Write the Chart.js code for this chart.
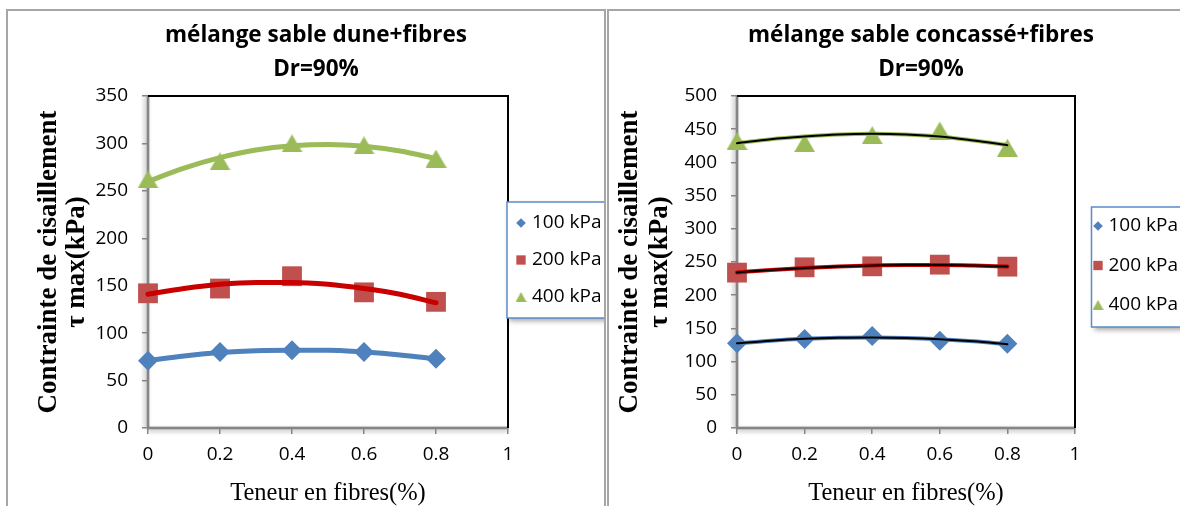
<!DOCTYPE html>
<html>
<head>
<meta charset="utf-8">
<script src="https://cdn.jsdelivr.net/npm/chart.js@4.4.1/dist/chart.umd.min.js"></script>
<style>
html,body{margin:0;padding:0;background:#fff;width:1180px;height:506px;overflow:hidden;}
.panel{position:absolute;top:9px;height:500px;overflow:hidden;border-top:2px solid #a6a6a6;background:#fff;}
#p1{left:6px;width:596px;border-left:2px solid #a6a6a6;border-right:2px solid #a6a6a6;}
#p2{left:607px;width:600px;border-left:2px solid #a6a6a6;}
canvas{position:absolute;left:0;top:0;}
</style>
</head>
<body>
<div class="panel" id="p1"><canvas id="c1" width="616" height="495"></canvas></div>
<div class="panel" id="p2"><canvas id="c2" width="624" height="495"></canvas></div>
<script>
// ---------- data ----------
const fibreContent = [0, 0.2, 0.4, 0.6, 0.8];
const seriesLabels = ['100 kPa', '200 kPa', '400 kPa'];
const xTicks = [0, 0.2, 0.4, 0.6, 0.8, 1];
const xTickLabels = ['0', '0.2', '0.4', '0.6', '0.8', '1'];
const yTicksDune = [0, 50, 100, 150, 200, 250, 300, 350];
const yTicksConc = [0, 50, 100, 150, 200, 250, 300, 350, 400, 450, 500];

// sable dune + fibres (measured points)
const dune100 = [71, 80, 82, 80, 73];
const dune200 = [142, 147, 160, 143, 133];
const dune400 = [262, 281, 300, 298, 284];
// trend curves
const trendX = [0, 0.1, 0.2, 0.3, 0.4, 0.5, 0.6, 0.7, 0.8];
const duneTrend100 = [71, 76, 79.5, 81.5, 82, 82, 80, 77, 73];
const duneTrend200 = [141, 147, 151.5, 153.5, 153.5, 151.5, 147, 141, 132];
const duneTrend400 = [260, 274, 285, 293, 297.5, 299, 297, 292, 284];

// sable concassé + fibres (measured points)
const conc100 = [127.5, 134, 138.5, 131.5, 127];
const conc200 = [234, 242, 243.5, 246, 243];
const conc400 = [432, 429, 441, 448, 422];
const concTrend100 = [127.5, 131.5, 134.3, 135.8, 136.2, 135.5, 133.6, 130.5, 126.3];
const concTrend200 = [234.3, 238, 241, 243.2, 244.7, 245.4, 245.4, 244.6, 243.1];
const concTrend400 = [429, 435, 439, 442, 443, 442, 439, 433, 426];

// ---------- styles ----------
const BLUE = '#4F81BD', RED = '#C0504D', GREEN = '#9BBB59';
const TICK_FONT = {family: 'Open Sans', size: 19};
const pts = (xs, ys) => xs.map((x, i) => ({x: x, y: ys[i]}));

// triangle marker whose bounding box is centred on the value
function triangleImage(w, h, color) {
  const c = document.createElement('canvas');
  c.width = w; c.height = h;
  const g = c.getContext('2d');
  g.fillStyle = color;
  g.beginPath(); g.moveTo(w / 2, 0); g.lineTo(w, h); g.lineTo(0, h); g.closePath(); g.fill();
  return c;
}
const TRI_BIG = triangleImage(21, 18, GREEN);
const TRI_SMALL = triangleImage(11, 10, GREEN);

function markerSet(label, ys, color, style, radius, legendStyle, legendRadius) {
  return {label: label, data: pts(fibreContent, ys), showLine: false, pointStyle: style,
    pointRadius: radius, pointHoverRadius: radius, backgroundColor: color, borderColor: color,
    borderWidth: 0, clip: false, order: 3, isMarker: true,
    legendStyle: legendStyle, legendRadius: legendRadius};
}
function trendSet(ys, color, width, order) {
  return {label: '', data: pts(trendX, ys), showLine: true, pointRadius: 0, borderColor: color,
    backgroundColor: color, borderWidth: width, cubicInterpolationMode: 'monotone', clip: false,
    order: order, borderCapStyle: 'round'};
}

// legend drawn as an outlined box
const boxLegend = {
  id: 'boxLegend',
  afterDraw(chart, args, o) {
    const ctx = chart.ctx, ca = chart.chartArea;
    const bx = ca.right + o.dx, by = o.top;
    ctx.save();
    ctx.shadowColor = 'rgba(0,0,0,0.35)';
    ctx.shadowBlur = 5; ctx.shadowOffsetX = 2; ctx.shadowOffsetY = 3;
    ctx.fillStyle = '#fff';
    ctx.fillRect(bx, by, o.w, o.h);
    ctx.restore();
    ctx.save();
    ctx.strokeStyle = '#5B8BC9'; ctx.lineWidth = 1.5;
    ctx.strokeRect(bx, by, o.w, o.h);
    const items = chart.data.datasets.filter(d => d.isMarker);
    items.forEach((d, i) => {
      const cy = by + o.first + i * o.gap;
      ctx.fillStyle = d.backgroundColor;
      Chart.helpers.drawPoint(ctx, {pointStyle: d.legendStyle, rotation: 0, radius: d.legendRadius, borderWidth: 0},
        bx + o.mx, cy);
      ctx.fillStyle = '#000';
      ctx.font = '19px "Open Sans"';
      ctx.textBaseline = 'middle'; ctx.textAlign = 'left';
      ctx.fillText(d.label, bx + o.tx, cy);
    });
    ctx.restore();
  }
};

// plot frame: black top/right, shaded grey axes
const frame = {
  id: 'frame',
  beforeDraw(chart) {
    const ctx = chart.ctx, ca = chart.chartArea;
    ctx.save();
    ctx.strokeStyle = 'rgba(120,120,120,0.6)'; ctx.lineWidth = 3;
    ctx.shadowColor = 'rgba(0,0,0,0.45)'; ctx.shadowBlur = 4;
    ctx.shadowOffsetX = -2; ctx.shadowOffsetY = 0;
    ctx.beginPath(); ctx.moveTo(ca.left, ca.top); ctx.lineTo(ca.left, ca.bottom); ctx.stroke();
    ctx.shadowOffsetX = 0; ctx.shadowOffsetY = 2;
    ctx.beginPath(); ctx.moveTo(ca.left, ca.bottom); ctx.lineTo(ca.right, ca.bottom); ctx.stroke();
    ctx.restore();
  },
  beforeDatasetsDraw(chart) {
    const ctx = chart.ctx, ca = chart.chartArea;
    ctx.save();
    ctx.strokeStyle = '#000'; ctx.lineWidth = 2;
    ctx.beginPath();
    ctx.moveTo(ca.left, ca.top); ctx.lineTo(ca.right, ca.top); ctx.lineTo(ca.right, ca.bottom);
    ctx.stroke();
    ctx.restore();
  }
};

function makeChart(id, cfg) {
  return new Chart(document.getElementById(id), {
    type: 'scatter',
    data: {datasets: cfg.datasets},
    plugins: [frame, boxLegend],
    options: {
      responsive: false, animation: false, events: [],
      layout: {padding: 0},
      plugins: {
        legend: {display: false},
        tooltip: {enabled: false},
        title: {display: true, text: cfg.title, color: '#000',
          font: {family: 'Open Sans', size: 22.5, weight: 'bold', lineHeight: 34 / 22.5},
          padding: {top: 8, bottom: 9}},
        boxLegend: cfg.legend
      },
      scales: {
        x: {
          type: 'linear', min: 0, max: 1,
          afterFit(s) { s.height = 78; },
          afterBuildTicks(s) { s.ticks = xTicks.map(v => ({value: v})); },
          ticks: {font: TICK_FONT, color: '#000', padding: 9, maxRotation: 0,
            callback: (v, i) => xTickLabels[i]},
          grid: {display: true, drawOnChartArea: false, drawTicks: true, tickLength: 6, color: '#868686', lineWidth: 1.5},
          border: {display: true, color: '#868686', width: 2},
          title: {display: true, text: 'Teneur en fibres(%)', color: '#000',
            font: {family: 'Liberation Serif', size: 24.5, lineHeight: 1.05}, padding: {top: 0, bottom: 0}}
        },
        y: {
          type: 'linear', min: 0, max: cfg.yMax,
          afterFit(s) { s.width = cfg.yWidth; },
          afterBuildTicks(s) { s.ticks = cfg.yTicks.map(v => ({value: v})); },
          ticks: {font: TICK_FONT, color: '#000', padding: 14},
          grid: {display: true, drawOnChartArea: false, drawTicks: true, tickLength: 6, color: '#868686', lineWidth: 1.5},
          border: {display: true, color: '#868686', width: 2},
          title: {display: true, text: ['Contrainte de cisaillement', 'τ max(kPa)'], color: '#000',
            font: {family: 'Liberation Serif', size: 27, weight: 'bold', lineHeight: cfg.yTitleLH / 27},
            padding: {top: cfg.yTitlePad, bottom: 0}}
        },
        // empty right-hand band that holds the legend area
        side: {
          type: 'linear', position: 'right', display: true,
          afterFit(s) { s.width = cfg.sideWidth; },
          ticks: {display: false}, grid: {display: false}, border: {display: false}
        }
      }
    }
  });
}

makeChart('c1', {
  title: ['mélange sable dune+fibres', 'Dr=90%'],
  sideWidth: 116, yWidth: 140, yMax: 350, yTicks: yTicksDune, yTitleLH: 28, yTitlePad: 27,
  legend: {dx: -1, top: 191, w: 130, h: 116, mx: 14, tx: 25, first: 21, gap: 37},
  datasets: [
    markerSet(seriesLabels[0], dune100, BLUE, 'rectRot', 10, 'rectRot', 4.8),
    markerSet(seriesLabels[1], dune200, RED, 'rect', 14, 'rect', 6.6),
    markerSet(seriesLabels[2], dune400, GREEN, TRI_BIG, 10, TRI_SMALL, 6),
    trendSet(duneTrend100, BLUE, 5, 1),
    trendSet(duneTrend200, '#C80000', 5, 1),
    trendSet(duneTrend400, GREEN, 5, 1)
  ]
});

makeChart('c2', {
  title: ['mélange sable concassé+fibres', 'Dr=90%'],
  sideWidth: 158, yWidth: 128, yMax: 500, yTicks: yTicksConc, yTitleLH: 30, yTitlePad: 6,
  legend: {dx: 16.5, top: 196, w: 130, h: 120, mx: 6.5, tx: 17, first: 19, gap: 39.5},
  datasets: [
    markerSet(seriesLabels[0], conc100, BLUE, 'rectRot', 10, 'rectRot', 4.8),
    markerSet(seriesLabels[1], conc200, RED, 'rect', 14, 'rect', 6.6),
    markerSet(seriesLabels[2], conc400, GREEN, TRI_BIG, 10, TRI_SMALL, 6),
    trendSet(concTrend100, BLUE, 4, 1),
    trendSet(concTrend200, '#C80000', 4, 1),
    trendSet(concTrend400, GREEN, 4, 1),
    trendSet(concTrend100, '#000', 2, 0),
    trendSet(concTrend200, '#000', 2, 0),
    trendSet(concTrend400, '#000', 2, 0)
  ]
});
</script>
</body>
</html>
